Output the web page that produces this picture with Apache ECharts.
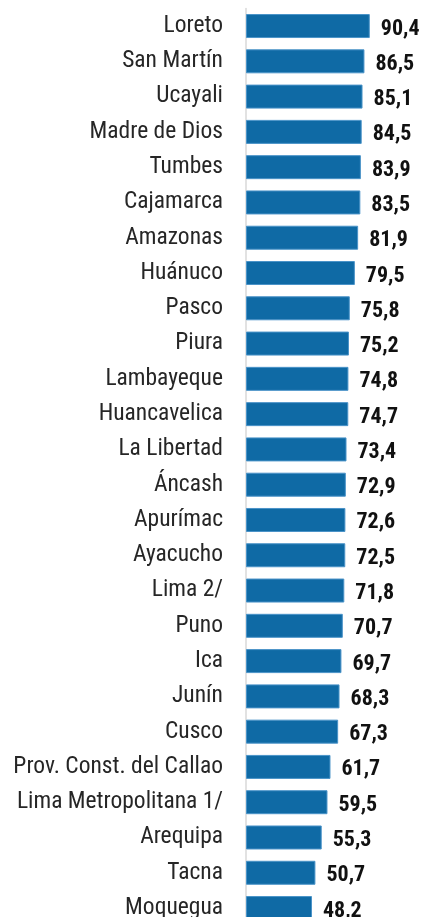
<!DOCTYPE html>
<html>
<head>
<meta charset="utf-8">
<script src="https://cdn.jsdelivr.net/npm/echarts@6/dist/echarts.min.js"></script>
<style>
html,body{margin:0;padding:0;background:#fff;overflow:hidden;}
#c{width:425px;height:930px;}
</style>
</head>
<body>
<div id="c"></div>
<script>
const categories = ["Loreto","San Martín","Ucayali","Madre de Dios","Tumbes","Cajamarca","Amazonas","Huánuco","Pasco","Piura","Lambayeque","Huancavelica","La Libertad","Áncash","Apurímac","Ayacucho","Lima 2/","Puno","Ica","Junín","Cusco","Prov. Const. del Callao","Lima Metropolitana 1/","Arequipa","Tacna","Moquegua"];
const values = [90.4,86.5,85.1,84.5,83.9,83.5,81.9,79.5,75.8,75.2,74.8,74.7,73.4,72.9,72.6,72.5,71.8,70.7,69.7,68.3,67.3,61.7,59.5,55.3,50.7,48.2];

const chart = echarts.init(document.getElementById('c'), null, {renderer:'canvas'});
chart.setOption({
  animation:false,
  backgroundColor:'#fff',
  grid:{left:246, right:1, top:8.4, height:917.3, containLabel:false},
  xAxis:{type:'value', min:0, max:130, show:false},
  yAxis:{
    type:'category', data:categories, inverse:true,
    axisLine:{show:true, lineStyle:{color:'#d9d9d9', width:1.5}},
    axisTick:{show:false},
    axisLabel:{margin:23, color:'#262626', fontFamily:'Roboto Condensed', fontSize:23.5, padding:[5,0,0,0]}
  },
  series:[{
    type:'bar', data:values, barWidth:24,
    itemStyle:{color:'#0f6aa5', borderColor:'#4a93c8', borderWidth:1},
    label:{show:true, position:'right', distance:11, color:'#111', fontWeight:'bold',
      fontFamily:'Roboto Condensed', fontSize:22, offset:[0,3],
      formatter:p=>p.value.toFixed(1).replace('.',',')}
  }]
});
</script>
</body>
</html>
